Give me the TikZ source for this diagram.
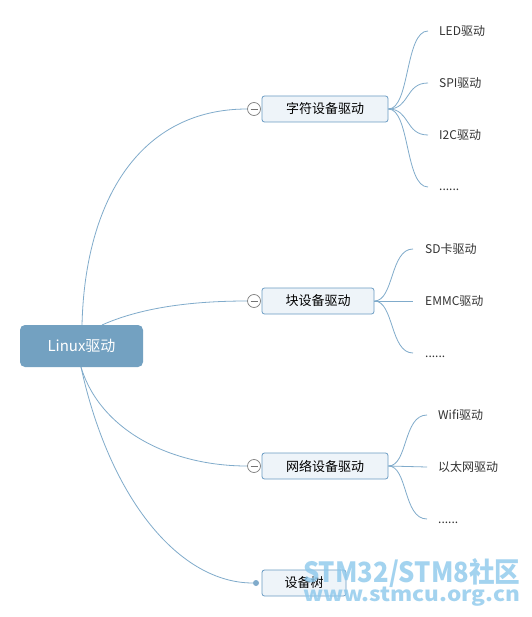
\documentclass[tikz,border=0pt]{standalone}
\usepackage{fontspec}
\setmainfont{Liberation Sans}
\newfontfamily\cjk{Noto Sans CJK SC}
\usetikzlibrary{positioning,calc}
\definecolor{rootfill}{HTML}{73A1C1}
\definecolor{edgec}{HTML}{80ABCB}
\definecolor{boxdraw}{HTML}{6B9CC3}
\definecolor{boxfill}{HTML}{EEF4F9}
\definecolor{wmark}{HTML}{8CC8EC}
\tikzset{
  rootbox/.style={draw=none,fill=rootfill,rounded corners=5pt,minimum width=123pt,minimum height=42pt,text=white,font=\cjk\fontsize{15}{18}\selectfont,inner sep=0pt},
  lvbox/.style={draw=boxdraw,fill=boxfill,rounded corners=2.5pt,minimum height=26pt,font=\cjk\fontsize{13}{16}\selectfont,inner sep=0pt,line width=0.8pt},
  leaf/.style={anchor=base west,font=\cjk\fontsize{12}{14}\selectfont,text=black!80,inner sep=0pt},
  con/.style={draw=edgec,line width=0.8pt},
  toggle/.style={circle,draw=black!50,fill=white,minimum size=13pt,inner sep=0pt,line width=0.7pt},
  wm/.style={anchor=base west,text=wmark,opacity=0.8,inner sep=0pt,font=\cjk\bfseries\fontsize{27}{30}\selectfont}
}
\begin{document}
\begin{tikzpicture}[x=1pt,y=-1pt]
\useasboundingbox[fill=white] (0,0) rectangle (531,617);
% root
\node[rootbox] (root) at (81.5,346) {Linux驱动};
% level 1 boxes
\node[lvbox,minimum width=126pt] (zf) at (325,109) {字符设备驱动};
\node[lvbox,minimum width=112pt] (kuai) at (318,301) {块设备驱动};
\node[lvbox,minimum width=126pt] (wl) at (325,466) {网络设备驱动};
\node[lvbox,minimum width=84pt] (sbs) at (304,583) {设备树};
% toggles
\node[toggle] (t1) at (254,109) {};
\node[toggle] (t2) at (254,301) {};
\node[toggle] (t3) at (254,466) {};
\draw[black!55,line width=0.8pt] ($(t1)+(-3.5,0)$) -- ($(t1)+(3.5,0)$);
\draw[black!55,line width=0.8pt] ($(t2)+(-3.5,0)$) -- ($(t2)+(3.5,0)$);
\draw[black!55,line width=0.8pt] ($(t3)+(-3.5,0)$) -- ($(t3)+(3.5,0)$);
\node[circle,fill=edgec,minimum size=6pt,inner sep=0pt] (t4) at (256,583) {};
% root connectors
\coordinate (r1) at (82,325);
\coordinate (r2) at (102,325);
\coordinate (r3) at (81,367);
\draw[con] (r1) .. controls (85,200) and (140,109) .. (t1.west);
\draw[con] (r2) .. controls (140,308) and (190,301) .. (t2.west);
\draw[con] (r3) .. controls (100,430) and (170,466) .. (t3.west);
\draw[con] (r3) .. controls (110,500) and (180,583) .. (t4.west);
% leaves of zf
\node[leaf] (l1) at (439,35.5) {LED驱动};
\node[leaf] (l2) at (439,87.5) {SPI驱动};
\node[leaf] (l3) at (439,139.5) {I2C驱动};
\node[leaf] (l4) at (439,191) {......};
\coordinate (e1) at (428,31);
\coordinate (e2) at (428,83);
\coordinate (e3) at (428,135);
\coordinate (e4) at (428,187);
\foreach \e in {e1,e2,e3,e4}
  \draw[con] (zf.east) .. controls (410,109) and (405,0 |- \e) .. (\e);
% leaves of kuai
\node[leaf] (k1) at (425,253.5) {SD卡驱动};
\node[leaf] (k2) at (425,305.5) {EMMC驱动};
\node[leaf] (k3) at (425,357) {......};
\coordinate (f1) at (413,249);
\coordinate (f2) at (413,301);
\coordinate (f3) at (413,353);
\draw[con] (kuai.east) .. controls (394,301) and (390,249) .. (f1);
\draw[con] (kuai.east) -- (f2);
\draw[con] (kuai.east) .. controls (394,301) and (390,353) .. (f3);
% leaves of wl
\node[leaf] (w1) at (438,419.5) {Wifi驱动};
\node[leaf] (w2) at (438,471.5) {以太网驱动};
\node[leaf] (w3) at (438,523) {......};
\coordinate (g1) at (427,415);
\coordinate (g2) at (427,467);
\coordinate (g3) at (427,519);
\draw[con] (wl.east) .. controls (408,466) and (403,415) .. (g1);
\draw[con] (wl.east) -- (g2);
\draw[con] (wl.east) .. controls (408,466) and (403,519) .. (g3);
% watermark
\node[wm] (wm1) at (303,582.5) {\resizebox{217pt}{24pt}{STM32/STM8社区}};
\node[wm] (wm2) at (303,601) {\resizebox{217pt}{14.5pt}{www.stmcu.org.cn}};
\end{tikzpicture}
\end{document}
